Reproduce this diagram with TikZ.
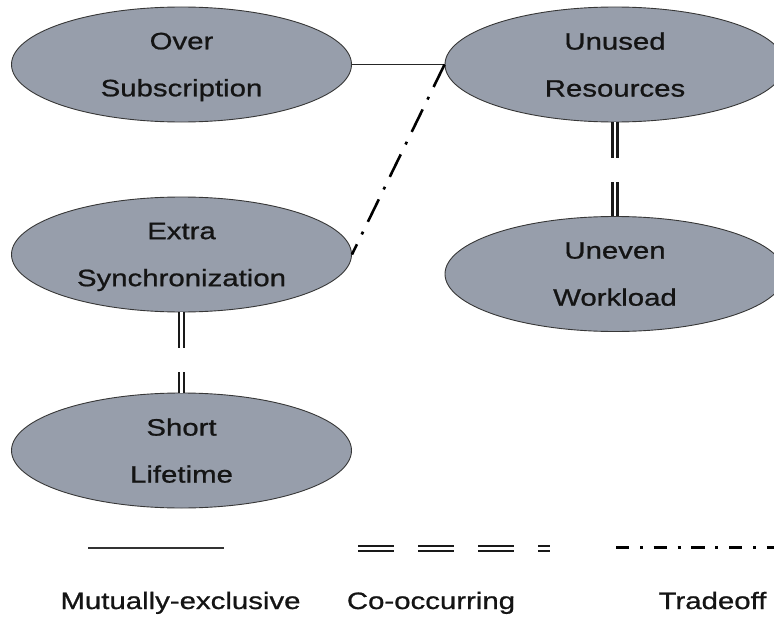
\documentclass[tikz,border=0pt]{standalone}
\usepackage{fontspec}
\newfontfamily\labfont[FakeStretch=1.24,FakeBold=0.9]{Liberation Sans}
\usetikzlibrary{shapes.geometric}
\definecolor{ovalfill}{RGB}{151,158,171}
\definecolor{ovalline}{RGB}{55,55,55}
\begin{document}
\begin{tikzpicture}[x=1pt,y=-1pt,
  oval/.style={ellipse, draw=ovalline, line width=0.9pt, fill=ovalfill,
    minimum width=340pt, minimum height=115pt, inner sep=0pt, align=center,
    text depth=0pt,
    font=\labfont\fontsize{23.7}{47}\selectfont, text=black!92},
  mutex/.style={line width=1.4pt, draw=black!85},
  cooccur/.style={draw=black!90, double=white, line width=2.4pt,
    double distance=2.4pt, dash pattern=on 36pt off 24pt},
  tradeoff/.style={draw=black, line width=2.6pt},
  legendtext/.style={font=\labfont\fontsize{23.7}{28}\selectfont, anchor=base, text=black!92}
]
\useasboundingbox (0,0) rectangle (774,618);

% the five concern ovals
\node[oval] (over)   at (181.5,64.5) {Over\\Subscription};
\node[oval] (unused) at (615,64.5)   {Unused\\Resources};
\node[oval] (extra)  at (181.5,254.5){Extra\\Synchronization};
\node[oval] (uneven) at (615,274)    {Uneven\\Workload};
\node[oval] (short)  at (181.5,450.5){Short\\Lifetime};

% relations between them
\draw[mutex] (over.east) -- (unused.west);
\draw[tradeoff, dash pattern=on 25pt off 11pt on 3pt off 11pt] (unused.west) -- (extra.east);
\draw[cooccur] (unused.south) -- (uneven.north);
\draw[cooccur] (extra.south) -- (short.north);

% legend
\coordinate (mxA) at (88,548);
\coordinate (mxB) at (224,548);
\draw[mutex, line width=2.6pt, draw=black!80] (mxA) -- (mxB);
\coordinate (coA) at (358,548.5);
\coordinate (coB) at (550,548.5);
\draw[cooccur] (coA) -- (coB);
\coordinate (trA) at (616,547.7);
\coordinate (trB) at (774,547.7);
\draw[tradeoff, line width=3pt, dash pattern=on 13.3pt off 10.7pt on 3pt off 10.7pt] (trA) -- (trB);

\node[legendtext] (lmx) at (180.5,609) {Mutually-exclusive};
\node[legendtext] (lco) at (431,609)   {Co-occurring};
\node[legendtext] (ltr) at (712.5,609) {Tradeoff};
\end{tikzpicture}
\end{document}
